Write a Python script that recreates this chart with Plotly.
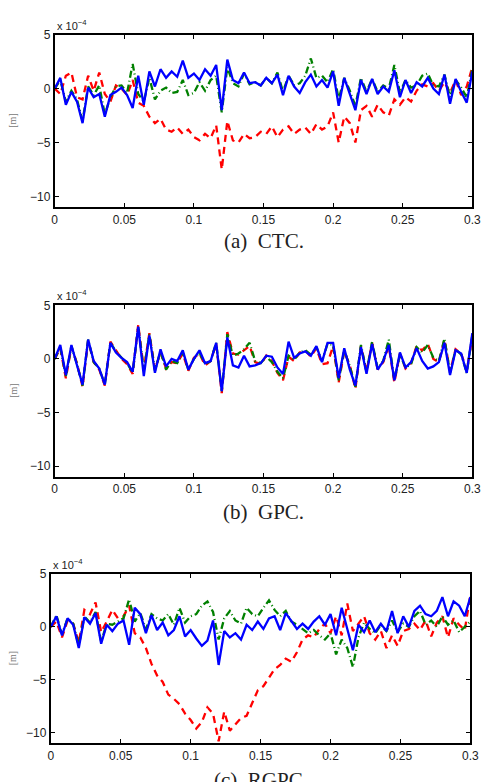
import plotly.graph_objects as go

# x grid (s)
x = [round(0.004 * i, 3) for i in range(76)]

# Values in units of 1e-4 m
a_red = [0.0, -0.5, 1.2, 1.5, -0.8, -1.0, 1.2, -0.2, 1.5, -0.5, -1.2, 0.3, 0.0, -0.6, 0.8, -1.3,
         -1.6, -2.6, -3.2, -2.8, -3.8, -4.0, -3.6, -4.2, -3.8, -4.5, -4.8, -4.2, -4.6, -3.4, -7.5, -3.0,
         -4.8, -5.0, -4.2, -4.6, -4.5, -4.0, -4.2, -3.5, -4.5, -3.8, -3.5, -4.2, -3.8, -3.6, -4.2, -3.3,
         -3.8, -3.5, -2.2, -5.0, -2.6, -3.2, -5.0, -2.0, -1.6, -2.6, -1.5, -2.2, -2.5, -1.0, -1.5, -0.8,
         -1.2, -0.2, 0.4, 0.2, 0.5, -0.2, 0.6, -0.4, 0.8, -0.6, 0.2, 2.0]
a_green = [0.0, 0.8, -1.2, -0.2, -1.0, -3.0, 0.2, -0.6, 0.3, -2.4, -0.8, 0.2, 0.3, -0.4, 2.3, -0.5,
           -1.2, 1.0, -1.0, -0.2, 0.1, -0.4, -0.3, 0.8, -0.6, -0.4, 0.6, -0.2, 0.8, 1.2, -2.2, 2.0,
           0.5, 0.2, 1.4, 0.4, 0.6, 0.3, 1.0, 0.5, 1.5, -0.3, 1.2, 0.3, 0.5, 1.2, 2.8, 1.0,
           1.2, 0.6, 1.8, -1.0, 1.0, -0.2, -1.6, 1.0, -0.3, 0.9, -0.3, 0.3, 0.0, 2.2, -0.4, 0.8,
           0.1, 0.3, 1.2, 1.4, 0.3, 0.2, 1.3, -0.8, 0.8, 0.1, -0.8, 1.8]
a_blue = [0.0, 1.0, -1.5, -0.3, -1.2, -3.2, 0.1, -0.8, -0.5, -2.6, -0.6, -0.3, 0.1, -0.6, -1.8, 1.2,
          -1.5, 1.6, 0.2, 1.8, 1.0, 1.6, 1.1, 2.6, 1.0, 1.4, 0.8, 1.8, 1.2, 2.2, -2.0, 2.7,
          0.8, 0.5, 1.5, 0.5, 0.6, 0.3, 1.0, 0.5, 1.3, -0.6, 1.2, 0.2, -0.4, 0.6, 1.3, 0.2,
          0.8, 0.1, 1.6, -1.6, 1.0, -0.5, -2.0, 0.8, -0.5, 0.9, -0.5, 0.2, -0.3, 1.7, -0.8, 0.8,
          -0.4, 0.6, 0.2, 1.0, 0.0, -0.5, 1.3, -1.4, 0.9, -0.3, -1.3, 1.6]

b_red = [0.0, 1.0, -1.8, 1.1, -0.4, -2.6, 1.7, -0.3, -1.0, -2.5, 1.6, 0.8, 0.0, -0.5, -1.4, 3.2,
         -1.0, 2.4, -1.0, 0.6, -0.9, -0.3, -0.4, 0.5, -1.1, 0.1, 0.5, -0.6, -0.2, 1.4, -3.2, 2.5,
         0.5, 0.4, 0.8, 1.2, -0.3, -0.5, 0.3, -0.2, -1.3, -2.0, 0.2, -0.2, 0.6, 0.8, 0.2, 1.0,
         -0.5, -0.4, 1.2, -2.2, 0.7, -0.6, -2.8, 1.2, -1.2, 1.5, -1.0, -0.3, 1.2, -2.2, 0.5, -0.9,
         -0.4, 1.2, 0.8, 1.4, 0.0, -0.3, 1.8, -1.2, 0.9, 0.5, -1.1, 2.0]
b_green = [0.0, 1.1, -1.6, 1.2, -0.5, -2.5, 1.8, -0.3, -0.9, -2.4, 1.5, 0.7, 0.1, -0.4, -1.3, 3.0,
           -1.1, 2.3, -1.1, 0.7, -1.0, -0.2, -0.4, 0.6, -1.0, 0.0, 0.6, -0.5, -0.2, 1.5, -3.0, 2.3,
           0.3, 0.5, 0.9, 1.5, -0.2, -0.4, 0.2, -0.3, -1.2, -1.8, 0.3, -0.1, 0.6, 0.8, 0.4, 1.1,
           -0.2, 1.4, 1.3, -2.0, 0.8, -0.7, -2.6, 1.3, -1.2, 1.6, -0.9, -0.2, 1.8, -2.0, 0.4, -0.8,
           -0.5, 1.1, 0.6, 1.3, 0.1, -0.2, 1.9, -1.3, 0.9, 0.4, -1.3, 2.2]
b_blue = [0.0, 1.3, -1.5, 1.3, -0.6, -2.4, 1.8, -0.2, -0.9, -2.4, 1.5, 0.6, 0.1, -0.3, -1.2, 3.0,
          -1.6, 2.2, -1.3, 0.9, -0.7, 0.0, -0.2, 0.8, -1.0, 0.0, 0.8, -0.4, -0.2, 1.5, -3.0, 2.0,
          -0.6, -0.8, 0.3, -0.7, -0.6, -0.4, 0.3, 0.2, -0.8, -1.4, 1.6, 0.1, 0.5, 0.7, 0.3, 1.2,
          -0.3, 1.5, 1.5, -1.8, 1.0, -1.0, -2.5, 1.1, -1.4, 1.4, -1.0, -0.2, 1.3, -2.0, 0.6, -0.8,
          -0.3, 1.0, -0.2, -0.9, -0.7, -0.3, 1.5, -1.5, 0.8, 0.5, -1.3, 2.4]

c_red = [0.0, 0.5, -1.0, 0.6, 0.3, -1.5, 1.6, 1.2, 2.3, -0.5, 0.5, 1.6, 0.8, 1.0, 2.0, -0.6,
         -1.0, -2.0, -3.5, -4.6, -5.2, -6.4, -6.8, -7.3, -8.2, -8.8, -9.6, -9.0, -7.6, -8.2, -10.8, -8.0,
         -9.8, -9.2, -8.6, -8.4, -7.2, -6.0, -5.6, -4.8, -4.0, -3.6, -3.0, -3.3, -2.4, -1.2, -0.8, -1.0,
         -0.2, 0.3, -0.6, 1.0, -0.8, 2.2, -0.4, 0.3, 1.0, -0.6, -1.2, -0.4, -2.0, -0.8, -1.8, -0.4,
         -0.2, 0.3, -0.3, 0.6, -0.9, 0.4, 1.0, -1.0, 0.8, 0.2, -0.3, 3.0]
c_green = [0.0, 1.1, -0.7, 0.8, 0.3, -1.8, 1.0, 0.4, 1.4, -1.4, 0.3, 0.2, 0.5, 0.8, 2.6, 0.5,
           1.3, -0.2, 1.2, 0.8, 0.6, 1.2, 0.2, 1.8, 0.4, 1.0, 1.2, 2.0, 2.4, 1.4, -1.2, 0.8,
           1.5, 0.6, 0.3, 1.8, 1.2, 1.0, 1.8, 2.5, 1.6, 1.0, 1.5, 0.5, 0.2, -0.2, -0.6, -0.3,
           -0.8, -1.2, -0.6, -2.6, -1.2, -2.0, -3.8, -1.0, 0.4, -0.2, -0.6, 0.2, -0.4, 0.6, -0.5, 0.3,
           0.0, 1.0, 1.5, 0.2, 0.6, 0.0, 1.0, 0.2, 0.6, -0.5, 0.0, 0.5]
c_blue = [0.0, 1.0, -0.8, 0.8, 0.2, -2.0, 0.9, 0.3, 1.3, -1.6, 0.2, -0.4, 0.3, 0.6, -1.7, 1.8,
          1.2, -0.6, 1.1, -0.3, 0.4, -0.8, -0.3, 1.0, -0.9, -0.3, -1.1, -1.8, -1.3, 0.6, -3.6, -0.4,
          -1.0, -0.6, -1.2, 0.2, -0.3, 0.5, -0.2, 0.8, 1.0, -0.3, 1.3, 0.5, -0.2, 0.3, -0.2, 0.5,
          1.0, 0.2, 1.2, -0.8, 1.8, -0.2, -2.2, 0.2, -0.5, 0.6, -0.5, 0.3, -0.4, 1.5, -0.6, 1.0,
          0.0, 1.5, 2.0, 1.2, 1.0, 1.5, 2.8, 1.0, 2.4, 2.0, 1.0, 2.8]

captions = ["(a)  CTC.", "(b)  GPC.", "(c)  RGPC."]
x_ticks = [0, 0.05, 0.1, 0.15, 0.2, 0.25, 0.3]
x_ticktext = ["0", "0.05", "0.1", "0.15", "0.2", "0.25", "0.3"]
y_ticks = [-10, -5, 0, 5]
y_ticktext = ["\u221210", "\u22125", "0", "5"]

panels = [(a_red, a_green, a_blue), (b_red, b_green, b_blue), (c_red, c_green, c_blue)]

W, H = 494, 782
# pixel boxes (left, right, top, bottom)
boxes = [(53, 481, 28, 202), (53, 481, 301, 474), (49, 479, 572, 743)]
cap_y = [236, 510, 780]

fig = go.Figure()
tick_font = dict(family="Liberation Sans, Arial, sans-serif", size=12, color="#222222")

for k, (red, green, blue) in enumerate(panels):
    xa = "x" if k == 0 else f"x{k+1}"
    ya = "y" if k == 0 else f"y{k+1}"
    fig.add_trace(go.Scatter(x=x, y=red, mode="lines", xaxis=xa, yaxis=ya,
                             line=dict(color="#ff0000", width=2.3, dash="7px,5px"), showlegend=False))
    fig.add_trace(go.Scatter(x=x, y=green, mode="lines", xaxis=xa, yaxis=ya,
                             line=dict(color="#008000", width=2.3, dash="7px,3px,1px,3px"), showlegend=False))
    fig.add_trace(go.Scatter(x=x, y=blue, mode="lines", xaxis=xa, yaxis=ya,
                             line=dict(color="#0000ff", width=2.3), showlegend=False))
    l, r, t, b = boxes[k]
    xd = [l / W, r / W]
    yd = [1 - b / H, 1 - t / H]
    suffix = "" if k == 0 else str(k + 1)
    fig.layout["xaxis" + suffix] = dict(
        domain=xd, range=[0, 0.3], anchor=ya, tickvals=x_ticks, ticktext=x_ticktext,
        ticks="inside", ticklen=4, tickcolor="#000", showline=True, linecolor="#000", linewidth=2,
        mirror="allticks", showgrid=False, zeroline=False, tickfont=tick_font, fixedrange=True)
    fig.layout["yaxis" + suffix] = dict(
        domain=yd, range=[-11, 5], anchor=xa, tickvals=y_ticks, ticktext=y_ticktext,
        ticks="inside", ticklen=4, tickcolor="#000", showline=True, linecolor="#000", linewidth=2,
        mirror="allticks", showgrid=False, zeroline=False, tickfont=tick_font, fixedrange=True)
    # exponent label
    fig.add_annotation(x=l / W, y=1 - (t - 10) / H, xref="paper", yref="paper",
                       text="x 10<sup>\u22124</sup>", showarrow=False, xanchor="left", yanchor="middle",
                       font=dict(family="Liberation Sans, Arial, sans-serif", size=11, color="#222222"))
    # y label
    fig.add_annotation(x=10 / W, y=1 - ((t + b) / 2) / H, xref="paper", yref="paper",
                       text="[m]", textangle=-90, showarrow=False, xanchor="center", yanchor="middle",
                       font=dict(family="Liberation Serif, Times New Roman, serif", size=10, color="#777777"))
    # caption
    fig.add_annotation(x=(l + r) / 2 / W, y=1 - cap_y[k] / H, xref="paper", yref="paper",
                       text=captions[k], showarrow=False, xanchor="center", yanchor="middle",
                       font=dict(family="Liberation Serif, Times New Roman, serif", size=21, color="#222222"))

fig.update_layout(width=W, height=H, margin=dict(l=0, r=0, t=0, b=0),
                  paper_bgcolor="white", plot_bgcolor="white", autosize=False)

fig.write_html("out.html")
